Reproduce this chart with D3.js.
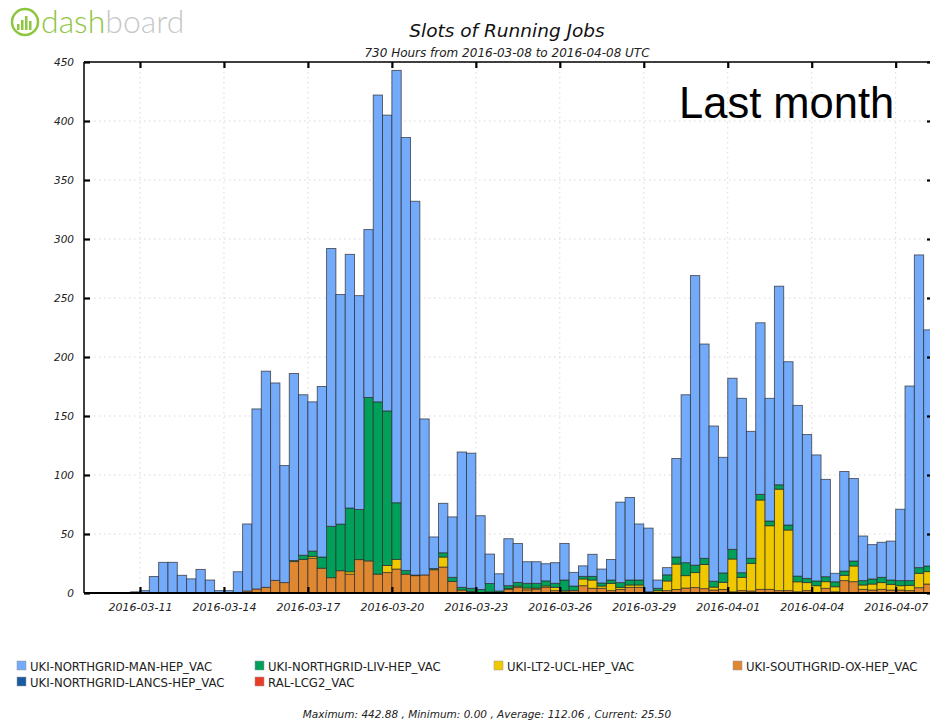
<!DOCTYPE html>
<html>
<head>
<meta charset="utf-8">
<script src="https://cdn.jsdelivr.net/npm/d3@7"></script>
<style>
  html, body { margin: 0; padding: 0; background: #fff; }
  svg { display: block; }
  .cond { font-family: 'DejaVu Sans', sans-serif; }
</style>
</head>
<body>
<svg id="chart" width="930" height="722"></svg>
<script>
// ---------------- DATA ----------------
const titleText = "Slots of Running Jobs";
const subtitleText = "730 Hours from 2016-03-08 to 2016-04-08 UTC";
const footerText = "Maximum: 442.88 , Minimum: 0.00 , Average: 112.06 , Current: 25.50";
const firstBin = "2016-03-09T00:00:00Z";   // start of first 8-hour bin
const binHours = 8;
const binCount = 91;
const xTickLabels = ["2016-03-11","2016-03-14","2016-03-17","2016-03-20","2016-03-23",
  "2016-03-26","2016-03-29","2016-04-01","2016-04-04","2016-04-07"];
const yTicks = [0,50,100,150,200,250,300,350,400,450];

const seriesNames = ["UKI-NORTHGRID-MAN-HEP_VAC","UKI-NORTHGRID-LIV-HEP_VAC","UKI-LT2-UCL-HEP_VAC",
  "UKI-SOUTHGRID-OX-HEP_VAC","UKI-NORTHGRID-LANCS-HEP_VAC","RAL-LCG2_VAC"];
const seriesColors = ["#73aafa","#00a05a","#f0c800","#e08732","#1a5aa0","#eb3c28"];

const MAN = [0,0,0,0,0,1,2,14,26,26,15,12,20,11,2,2,18,56.8,152.6,183.2,
  167.3,99.2,158.4,136,126.5,144.5,235.5,194.6,215,181.2,142.3,260,250.7,366.4,367,316.8,132.2,26.8,41.9,51.2,
  114.7,114.5,62.5,25,14.6,39.8,33,18.3,18.3,14.5,17.5,31,11.6,8.9,18.7,11.8,17.4,68.2,70,47.5,
  54,7,6.1,83.5,142.3,245.4,181.6,131.5,98,145,147.8,107.6,145.4,104,168.3,138.4,144.7,121.9,106.8,82.5,
  7.2,84.4,69.9,37.8,29.1,29.7,33,60.5,164.9,265,200.1];
const LIV = [0,0,0,0,0,0,0,0,0,0,0,0,0,0,0,0,0,0,0,0,
  0,0,1,3.5,4.5,9.5,43.5,39.5,54,42.5,138.5,146,131,48,3,0.5,0,1,3.6,3.5,
  2.3,2.6,3,7,1.7,2.5,3.2,4,4,4.3,3.4,9,3.9,2.2,3.1,2.6,2.8,4,4.2,4.2,
  1,2,5.2,6,11,6.3,5.2,5,8,8.2,3.9,4.3,4.8,4,3.7,4.2,4.8,3.6,4,4.2,
  4.2,3.6,4.2,3.7,4.3,4.5,3.7,4.3,4,4.8,4.8];
const UCL = [0,0,0,0,0,0,0,0,0,0,0,0,0,0,0,0,0,0,0,0,
  0,0,0,0,1.5,0,0,0,2,0,0,0,6,8.2,0,0,0,0,8.5,0,
  0,0,0,0,0,0.5,1.2,1.5,0.9,1.1,2.8,1,0,5.7,7,1.9,6.2,1.7,2,2,
  0,1.4,8.2,21.5,10.5,12.7,20.5,2.5,6,27.8,11.3,23.4,75.7,53.9,86,51.4,8.5,6.8,5.7,5.6,
  4.3,4.5,13.3,3.7,5.1,5.7,4.8,3.7,4.5,12.2,10.5];
const OX = [0,0,0,0,0,0,0,0,0,0,0,0,0,0,0,0,0,1.7,3.4,4.8,
  10.7,8.8,26.6,28.5,29.5,21,13,18.9,16,28.3,27.2,16,17.3,20.3,16,14.7,15.3,19.7,22,9.8,
  2.5,1.4,0,1,0,3.2,4.6,2.7,3.3,4.9,2,1,2,6.2,4,4,2,3.1,4.8,4.8,
  0,0.6,2,3,4.2,4.6,3.7,2.5,3,1,2,1.7,3.1,3.1,2,2,1,2,0.5,4,
  1,10.5,9.6,3.1,2.5,3.1,2.5,2.5,2,4.5,7.6];
const LANCS = new Array(binCount).fill(0);
const RAL = new Array(binCount).fill(0);

// ---------------- LAYOUT ----------------
const svg = d3.select("#chart");
const plot = { left: 84, right: 933, top: 62, bottom: 593 };

const t0 = new Date(firstBin);
const binMs = binHours * 3600e3;
const bins = d3.range(binCount).map(i => new Date(t0.getTime() + i * binMs));

const x = d3.scaleUtc()
  .domain([t0, new Date(t0.getTime() + binCount * binMs)])
  .range([plot.left, plot.right]);
const y = d3.scaleLinear().domain([0, 450]).range([plot.bottom, plot.top]);

const tickDates = xTickLabels.map(s => new Date(s + "T00:00:00Z"));

// grid
const grid = svg.append("g");
grid.selectAll(".gy").data(yTicks.filter(v => v > 0)).join("line")
  .attr("x1", plot.left).attr("x2", plot.right)
  .attr("y1", d => y(d)).attr("y2", d => y(d))
  .attr("stroke", "#d8d8d8").attr("stroke-dasharray", "1.5,3.5");
grid.selectAll(".gx").data(tickDates).join("line")
  .attr("x1", d => x(d)).attr("x2", d => x(d))
  .attr("y1", plot.top).attr("y2", plot.bottom)
  .attr("stroke", "#d8d8d8").attr("stroke-dasharray", "1.5,3.5");

// stacked bars
const table = bins.map((b, i) => ({
  t: b, RAL: RAL[i], LANCS: LANCS[i], OX: OX[i], UCL: UCL[i], LIV: LIV[i], MAN: MAN[i]
}));
const keys = ["RAL","LANCS","OX","UCL","LIV","MAN"];
const colorOf = { MAN: seriesColors[0], LIV: seriesColors[1], UCL: seriesColors[2],
  OX: seriesColors[3], LANCS: seriesColors[4], RAL: seriesColors[5] };
const stacked = d3.stack().keys(keys)(table);

const barsG = svg.append("g");
stacked.forEach(layer => {
  barsG.append("g").selectAll("rect")
    .data(layer.filter(d => d[1] - d[0] > 0))
    .join("rect")
    .attr("x", d => x(d.data.t))
    .attr("width", d => x(new Date(d.data.t.getTime() + binMs)) - x(d.data.t))
    .attr("y", d => y(d[1]))
    .attr("height", d => y(d[0]) - y(d[1]))
    .attr("fill", colorOf[layer.key])
    .attr("stroke", "#2a2a2a").attr("stroke-opacity", 0.75).attr("stroke-width", 0.9);
});

// frame / axes lines
const axisG = svg.append("g");
axisG.append("line").attr("x1", plot.left).attr("x2", plot.right)
  .attr("y1", plot.top).attr("y2", plot.top).attr("stroke", "#000").attr("stroke-width", 1.5);
axisG.append("line").attr("x1", plot.left).attr("x2", plot.right)
  .attr("y1", plot.bottom).attr("y2", plot.bottom).attr("stroke", "#000").attr("stroke-width", 2);
axisG.append("line").attr("x1", plot.left).attr("x2", plot.left)
  .attr("y1", plot.top).attr("y2", plot.bottom).attr("stroke", "#000").attr("stroke-width", 1.5);
axisG.append("line").attr("x1", plot.right).attr("x2", plot.right)
  .attr("y1", plot.top).attr("y2", plot.bottom).attr("stroke", "#000").attr("stroke-width", 1.5);

// Y axis (ticks inside)
const yAxis = d3.axisLeft(y).tickValues(yTicks).tickSize(-6).tickPadding(10);
const yg = svg.append("g").attr("transform", `translate(${plot.left},0)`).call(yAxis);
yg.select(".domain").remove();
yg.selectAll(".tick line").attr("stroke", "#000").attr("stroke-width", 2.2);
yg.selectAll(".tick text").attr("class", "cond").attr("font-size", 10.5)
  .attr("font-style", "italic").attr("fill", "#222");

// right axis ticks
const yr = svg.append("g").attr("transform", `translate(${plot.right},0)`)
  .call(d3.axisRight(y).tickValues(yTicks).tickSize(-6).tickFormat(""));
yr.select(".domain").remove();
yr.selectAll(".tick line").attr("stroke", "#000").attr("stroke-width", 2.2);

// X axis bottom (ticks inside)
const xAxis = d3.axisBottom(x).tickValues(tickDates).tickSize(-6).tickPadding(10)
  .tickFormat((d, i) => xTickLabels[i]);
const xg = svg.append("g").attr("transform", `translate(0,${plot.bottom})`).call(xAxis);
xg.select(".domain").remove();
xg.selectAll(".tick line").attr("stroke", "#000").attr("stroke-width", 2.2);
xg.selectAll(".tick text").attr("class", "cond").attr("font-size", 11)
  .attr("font-style", "italic").attr("fill", "#222");

// X axis top ticks
const xt = svg.append("g").attr("transform", `translate(0,${plot.top})`)
  .call(d3.axisTop(x).tickValues(tickDates).tickSize(-6).tickFormat(""));
xt.select(".domain").remove();
xt.selectAll(".tick line").attr("stroke", "#000").attr("stroke-width", 2.2);

// Titles
svg.append("text").attr("class", "cond").attr("x", 507).attr("y", 37)
  .attr("text-anchor", "middle").attr("font-size", 18.5).attr("font-style", "italic")
  .attr("fill", "#111").text(titleText);
svg.append("text").attr("class", "cond").attr("x", 507).attr("y", 57)
  .attr("text-anchor", "middle").attr("font-size", 12).attr("font-style", "italic")
  .attr("fill", "#222").text(subtitleText);

// Annotation
svg.append("text").attr("x", 679).attr("y", 118)
  .attr("font-family", "'Liberation Sans', Arial, sans-serif").attr("font-size", 43.5)
  .attr("fill", "#000").text("Last month");

// Legend
const legendPos = [[17,666],[255,666],[494,666],[733,666],[17,682],[255,682]];
const lg = svg.append("g");
seriesNames.forEach((name, i) => {
  const [lx, ly] = legendPos[i];
  lg.append("rect").attr("x", lx).attr("y", ly - 5).attr("width", 9).attr("height", 9)
    .attr("fill", seriesColors[i]).attr("stroke", "#999").attr("stroke-width", 0.5);
  lg.append("text").attr("class", "cond").attr("x", lx + 13).attr("y", ly + 4.5)
    .attr("font-size", 11.7).attr("fill", "#222").text(name);
});

// Footer
svg.append("text").attr("class", "cond").attr("x", 487).attr("y", 718)
  .attr("text-anchor", "middle").attr("font-size", 10.5).attr("font-style", "italic")
  .attr("fill", "#222").text(footerText);

// Logo
const logo = svg.append("g");
logo.append("circle").attr("cx", 25).attr("cy", 22).attr("r", 13)
  .attr("fill", "none").attr("stroke", "#8dc63f").attr("stroke-width", 2.5);
[[17,6],[21,10],[25,14],[29,9]].forEach(([bx, bh]) => {
  logo.append("rect").attr("x", bx).attr("y", 30 - bh).attr("width", 2.5).attr("height", bh)
    .attr("fill", "#8dc63f");
});
const logoText = logo.append("text").attr("x", 41).attr("y", 33)
  .attr("font-family", "Lato, 'Open Sans', sans-serif").attr("font-weight", 300)
  .attr("font-size", 32);
logoText.append("tspan").attr("fill", "#8dc63f").text("dash");
logoText.append("tspan").attr("fill", "#c8c8c8").text("board");
</script>
</body>
</html>
